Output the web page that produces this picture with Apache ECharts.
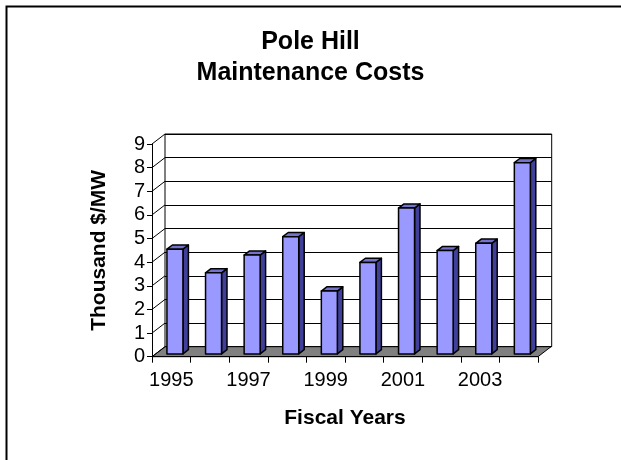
<!DOCTYPE html>
<html>
<head>
<meta charset="utf-8">
<script src="https://cdn.jsdelivr.net/npm/echarts@6/dist/echarts.min.js"></script>
<style>html,body{margin:0;padding:0;background:#fff}#c{width:621px;height:460px}</style>
</head>
<body>
<div id="c"></div>
<script>
var years = ['1995','1996','1997','1998','1999','2000','2001','2002','2003','2004'];
var costs = [4.43, 3.43, 4.18, 4.96, 2.66, 3.87, 6.17, 4.37, 4.68, 8.09];
var titleLines = ['Pole Hill', 'Maintenance Costs'];
var yName = 'Thousand $/MW';
var xName = 'Fiscal Years';

var FONT = 'Liberation Sans, Arial, sans-serif';
var DX = 13, DY = -10;          // depth of the 3D box
var F1 = 0.28, F2 = 0.70;       // bar depth range (fraction)
var BW = 16;                    // bar front width

var chart = echarts.init(document.getElementById('c'), null, {renderer:'canvas'});

function renderBox(params, api) {
  var cs = params.coordSys;
  var x0 = cs.x, x1 = cs.x + cs.width, yb = cs.y + cs.height;
  var children = [];
  children.push({type:'polygon', shape:{points:[[x0,yb],[x1,yb],[x1+DX,yb+DY],[x0+DX,yb+DY]]},
    style:{fill:'#808080', stroke:'#000', lineWidth:1}});
  for (var v = 0; v <= 9; v++) {
    var p = api.coord([0, v]);
    children.push({type:'line', shape:{x1:x0, y1:p[1], x2:x0+DX, y2:p[1]+DY}, style:{stroke:'#000', lineWidth:1}});
  }
  return {type:'group', children:children};
}

function renderBar(params, api) {
  var i = api.value(0), v = api.value(1);
  var top = api.coord([i, v]);
  var bot = api.coord([i, 0]);
  var ox1 = DX*F1, oy1 = DY*F1, ox2 = DX*F2, oy2 = DY*F2;
  var l = top[0] - BW/2 + ox1, r = top[0] + BW/2 + ox1;
  var ty = top[1] + oy1, by = bot[1] + oy1;
  var dx = ox2 - ox1, dy = oy2 - oy1;
  var st = {stroke:'#000', lineWidth:1.5, lineJoin:'round'};
  return {type:'group', children:[
    {type:'polygon', shape:{points:[[r,ty],[r+dx,ty+dy],[r+dx,by+dy],[r,by]]}, style:Object.assign({fill:'#40409a'}, st)},
    {type:'polygon', shape:{points:[[l,ty],[l+dx,ty+dy],[r+dx,ty+dy],[r,ty]]}, style:Object.assign({fill:'#7373cc'}, st)},
    {type:'rect', shape:{x:l, y:ty, width:BW, height:by-ty}, style:Object.assign({fill:'#9999ff'}, st)}
  ]};
}

var barData = costs.map(function(c, i){ return [i, c]; });

chart.setOption({
  animation:false,
  backgroundColor:'#fff',
  title:{
    text: titleLines.join('\n'),
    left:'center', top:22,
    textStyle:{fontFamily:FONT, fontSize:25, fontWeight:'bold', color:'#000', lineHeight:31}
  },
  graphic:[{type:'rect', shape:{x:6.5, y:6.5, width:700, height:600}, style:{fill:'none', stroke:'#000', lineWidth:2}, z:-1}],
  grid:[
    {left:152, right:83, top:144, bottom:103.3, containLabel:false},
    {left:165, right:69.3, top:134, bottom:113.3, show:true, borderColor:'#000', borderWidth:1, backgroundColor:'transparent'}
  ],
  xAxis:[
    {type:'category', gridIndex:0, data:years, boundaryGap:true, z:5,
     axisLine:{lineStyle:{color:'#000', width:1}},
     axisTick:{show:true, length:6, alignWithLabel:false, interval:0, lineStyle:{color:'#000'}},
     axisLabel:{interval:1, fontFamily:FONT, fontSize:20, color:'#000', margin:14},
     name:xName, nameLocation:'middle', nameGap:51,
     nameTextStyle:{fontFamily:FONT, fontSize:21, fontWeight:'bold', color:'#000'}},
    {type:'category', gridIndex:1, data:years, show:false}
  ],
  yAxis:[
    {type:'value', gridIndex:0, min:0, max:9, interval:1, z:5,
     axisLine:{show:true, lineStyle:{color:'#000', width:1}},
     axisTick:{show:true, length:5, lineStyle:{color:'#000'}},
     splitLine:{show:false},
     axisLabel:{fontFamily:FONT, fontSize:20, color:'#000', margin:7},
     name:yName, nameLocation:'middle', nameGap:42, nameRotate:90,
     nameTextStyle:{fontFamily:FONT, fontSize:21, fontWeight:'bold', color:'#000'}},
    {type:'value', gridIndex:1, min:0, max:9, interval:1,
     axisLine:{show:false}, axisTick:{show:false}, axisLabel:{show:false},
     splitLine:{show:true, lineStyle:{color:'#000', width:1}}}
  ],
  series:[
    {type:'custom', xAxisIndex:0, yAxisIndex:0, z:1, data:[[0,0]], renderItem:renderBox, silent:true},
    {type:'custom', xAxisIndex:0, yAxisIndex:0, z:3, data:barData, renderItem:renderBar}
  ]
});
</script>
</body>
</html>
